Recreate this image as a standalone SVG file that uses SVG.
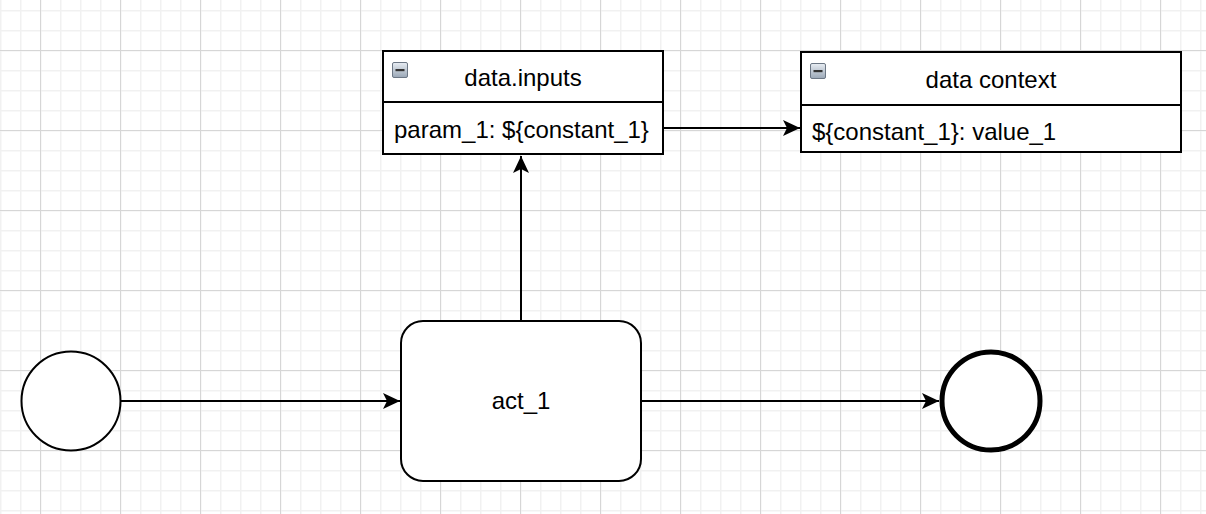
<svg xmlns="http://www.w3.org/2000/svg" width="1206" height="514" viewBox="0 0 1206 514">
<style>
.t{font-family:"Liberation Sans",Arial,Helvetica,sans-serif;font-size:24px;fill:#000}
.box{fill:#fff;stroke:#000;stroke-width:2}
.edge{fill:none;stroke:#000;stroke-width:2}
</style>
<defs>
<pattern id="minor" patternUnits="userSpaceOnUse" x="0" y="10" width="20" height="20">
<rect x="0" y="0" width="20" height="1.5" fill="#f1f1f1"/>
<rect x="0" y="0" width="1.5" height="20" fill="#f1f1f1"/>
</pattern>
<pattern id="major" patternUnits="userSpaceOnUse" x="40" y="50" width="80" height="80">
<rect x="0" y="0" width="80" height="1" fill="#d6d6d6"/>
<rect x="0" y="0" width="1" height="80" fill="#d6d6d6"/>
</pattern>
<marker id="arr" viewBox="0 0 17 16" refX="17" refY="8" markerWidth="17" markerHeight="16" markerUnits="userSpaceOnUse" orient="auto">
<path d="M0,0 L17,8 L0,16 L4,8 Z" fill="#000"/>
</marker>
<linearGradient id="ig" x1="0" y1="0" x2="0" y2="1">
<stop offset="0" stop-color="#e8edf3"/>
<stop offset="1" stop-color="#9aa7b6"/>
</linearGradient>
<g id="minus">
<rect x="0.5" y="0.5" width="15" height="15" rx="1.5" fill="url(#ig)" stroke="#6c7785" stroke-width="1"/>
<rect x="3.5" y="7" width="9" height="2.2" fill="#333"/>
</g>
</defs>
<rect width="1206" height="514" fill="#fff"/>
<rect width="1206" height="514" fill="url(#minor)"/>
<rect width="1206" height="514" fill="url(#major)"/>

<g id="connectors">
<path class="edge" d="M121,401 L400,401" marker-end="url(#arr)"/>
<path class="edge" d="M641,401 L939,401" marker-end="url(#arr)"/>
<path class="edge" d="M521,321 L521,156" marker-end="url(#arr)"/>
<path class="edge" d="M663,128 L800,128" marker-end="url(#arr)"/>
</g>

<g id="start">
<circle cx="71" cy="401" r="49.5" fill="#fff" stroke="#000" stroke-width="2"/>
</g>

<g id="act_1">
<rect class="box" x="401" y="321" width="240" height="160" rx="22" ry="22"/>
<text class="t" x="521" y="409" text-anchor="middle">act_1</text>
</g>

<g id="end">
<circle cx="991" cy="401" r="49" fill="#fff" stroke="#000" stroke-width="5"/>
</g>

<g id="data_inputs">
<rect class="box" x="383" y="51" width="280" height="103"/>
<line x1="383" y1="102" x2="663" y2="102" stroke="#000" stroke-width="2"/>
<use href="#minus" x="392" y="62"/>
<text class="t" x="523" y="86" text-anchor="middle">data.inputs</text>
<text class="t" x="394" y="138">param_1: ${constant_1}</text>
</g>

<g id="data_context">
<rect class="box" x="801" y="52" width="380" height="100"/>
<line x1="801" y1="105" x2="1181" y2="105" stroke="#000" stroke-width="2"/>
<use href="#minus" x="810" y="63"/>
<text class="t" x="991" y="88" text-anchor="middle">data context</text>
<text class="t" x="812" y="140">${constant_1}: value_1</text>
</g>
</svg>
